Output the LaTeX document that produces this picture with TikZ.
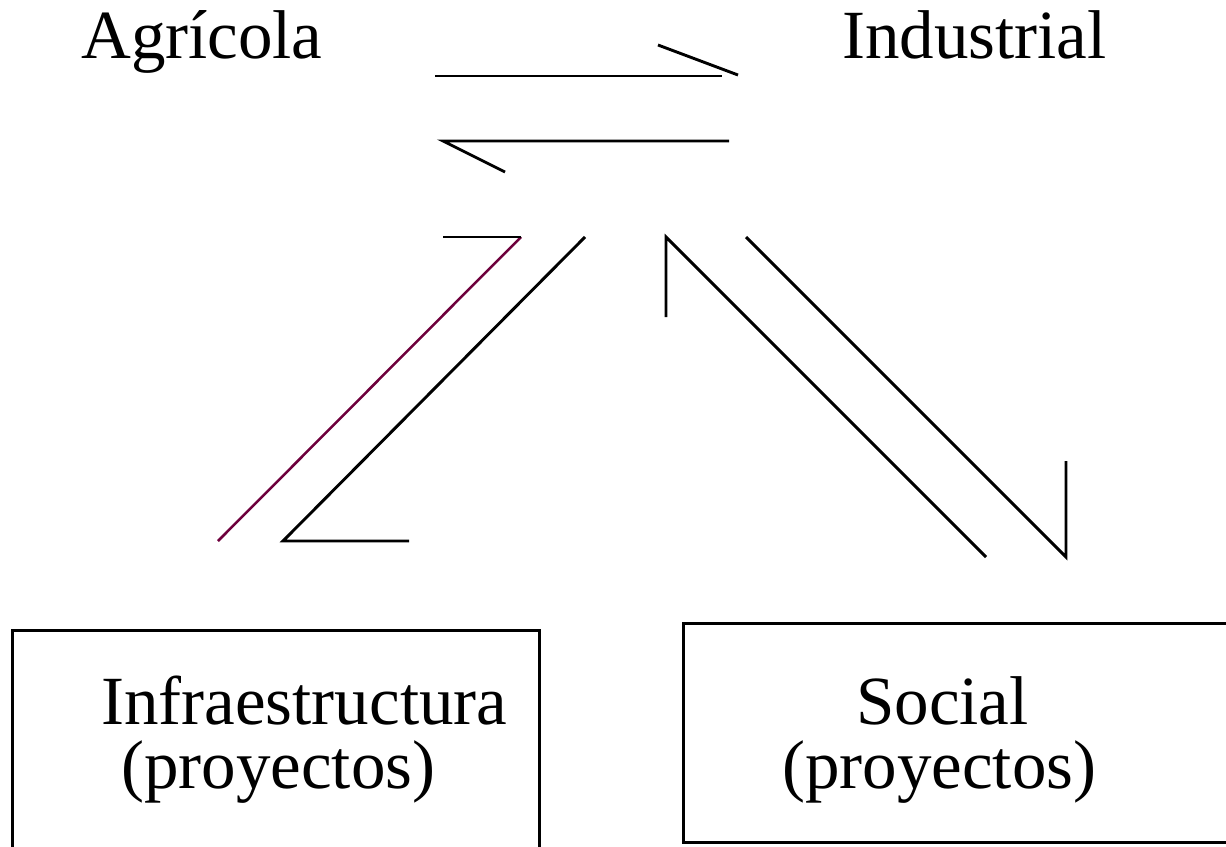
\documentclass[tikz,border=0pt]{standalone}
\usepackage{fontspec}
\setmainfont{Liberation Serif}
\definecolor{plum}{RGB}{110,0,60}
\begin{document}
\begin{tikzpicture}[x=1pt,y=-1pt,
  lbl/.style={inner sep=0pt,anchor=base west,font=\fontsize{69}{80}\selectfont},
  ln/.style={line width=2.9pt},
  boxn/.style={draw,line width=2.9pt,inner sep=0pt,anchor=north west}]
\useasboundingbox (0,0) rectangle (1226,846);
\clip (0,0) rectangle (1226,846);
% boxes
\node[boxn,minimum width=527pt,minimum height=240pt] (binf) at (11,629) {};
\node[boxn,minimum width=560pt,minimum height=219pt] (bsoc) at (682,622) {};
% labels
\node[lbl] (agr) at (81,58) {Agrícola};
\node[lbl] (ind) at (842,58) {Industrial};
\node[lbl] (inf1) at (101,724) {Infraestructura};
\node[lbl] (inf2) at (121,788) {(proyectos)};
\node[lbl] (soc1) at (856,724) {Social};
\node[lbl] (soc2) at (782,788) {(proyectos)};
% top harpoons
\coordinate (h1a) at (435,76);
\coordinate (h1b) at (722,76);
\coordinate (h1c) at (658,45);
\coordinate (h1d) at (738,75);
\coordinate (h2a) at (729,141);
\coordinate (h2b) at (443,141);
\coordinate (h2c) at (505,172);
\draw[ln] (h1a) -- (h1b);
\draw[ln] (h1c) -- (h1d);
\draw[ln] (h2a) -- (h2b) -- (h2c);
% left pair
\coordinate (l1a) at (218,541);
\coordinate (l1b) at (521,237);
\coordinate (l1c) at (443,237);
\coordinate (l2a) at (585,237);
\coordinate (l2b) at (283,541);
\coordinate (l2c) at (409,541);
\draw[ln,plum,line width=2.5pt] (l1a) -- (l1b);
\draw[ln] (l1c) -- (l1b);
\draw[ln] (l2a) -- (l2b) -- (l2c);
% right pair
\coordinate (r1a) at (666,317);
\coordinate (r1b) at (666,237);
\coordinate (r1c) at (986,557);
\coordinate (r2a) at (746,237);
\coordinate (r2b) at (1066,557);
\coordinate (r2c) at (1066,461);
\draw[ln] (r1a) -- (r1b) -- (r1c);
\draw[ln] (r2a) -- (r2b) -- (r2c);
\end{tikzpicture}
\end{document}
